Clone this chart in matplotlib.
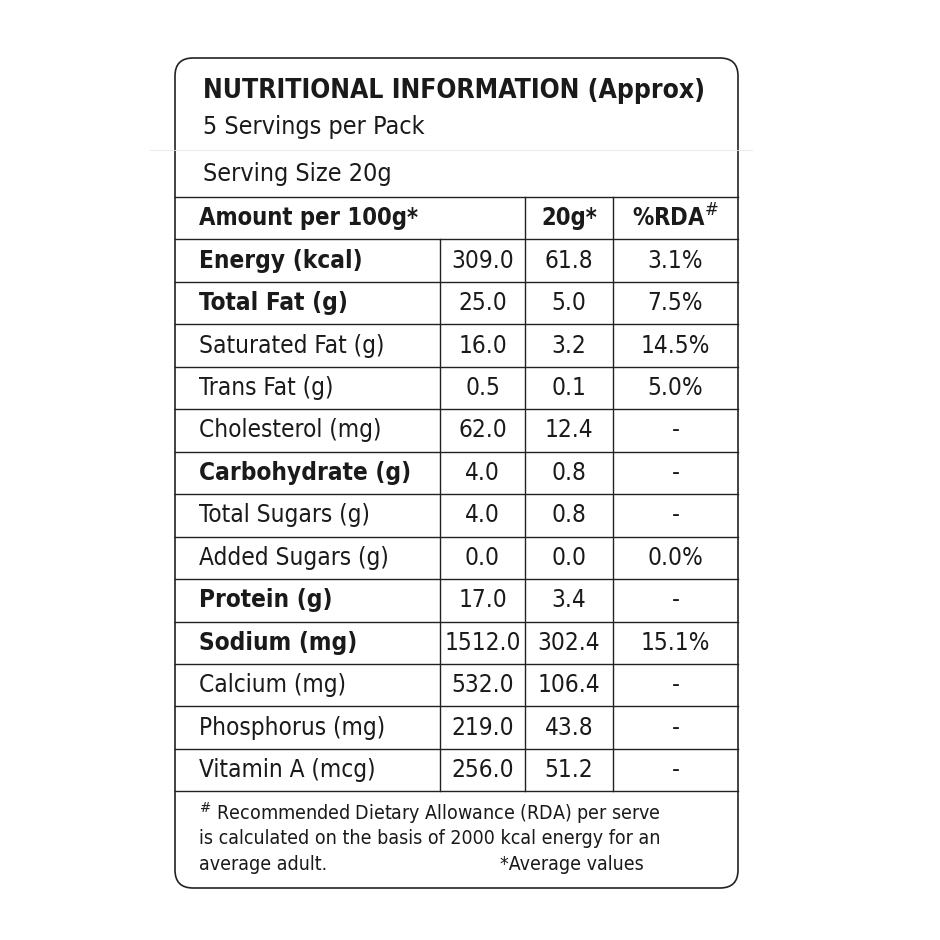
import matplotlib
matplotlib.use("Agg")
import matplotlib.pyplot as plt
from matplotlib.patches import FancyBboxPatch

# ---- data ----
TITLE = "NUTRITIONAL INFORMATION (Approx)"
SUB1 = "5 Servings per Pack"
SUB2 = "Serving Size 20g"
nutrients = ["Energy (kcal)", "Total Fat (g)", "Saturated Fat (g)", "Trans Fat (g)",
             "Cholesterol (mg)", "Carbohydrate (g)", "Total Sugars (g)", "Added Sugars (g)",
             "Protein (g)", "Sodium (mg)", "Calcium (mg)", "Phosphorus (mg)", "Vitamin A (mcg)"]
per100 = ["309.0", "25.0", "16.0", "0.5", "62.0", "4.0", "4.0", "0.0", "17.0",
          "1512.0", "532.0", "219.0", "256.0"]
per20 = ["61.8", "5.0", "3.2", "0.1", "12.4", "0.8", "0.8", "0.0", "3.4",
         "302.4", "106.4", "43.8", "51.2"]
rda = ["3.1%", "7.5%", "14.5%", "5.0%", "-", "-", "-", "0.0%", "-", "15.1%", "-", "-", "-"]
bold_rows = {"Energy (kcal)", "Total Fat (g)", "Carbohydrate (g)", "Protein (g)", "Sodium (mg)"}
FOOT = ["$^{\\#}$ Recommended Dietary Allowance (RDA) per serve",
        "is calculated on the basis of 2000 kcal energy for an",
        "average adult."]

# ---- layout (pixel coords) ----
L, R, TOP, BOT = 175, 738, 58, 888
HDR_TOP, ROW_H = 197, 42.45
COLS = [440, 525, 613]
FS = dict(family="DejaVu Sans", stretch="condensed", color="#1a1a1a")

fig = plt.figure(figsize=(9.4, 9.4), dpi=100)
ax = fig.add_axes([0, 0, 1, 1])
ax.set_xlim(0, 940)
ax.set_ylim(940, 0)
ax.axis("off")

ax.add_patch(FancyBboxPatch((L, TOP), R - L, BOT - TOP, boxstyle="round,pad=0,rounding_size=18",
                            fc="white", ec="#222222", lw=1.2, zorder=1))
ax.plot([150, 752], [150, 150], color="#e6e6e6", lw=0.6, zorder=1.5)

ax.text(203, 91, TITLE, fontsize=19, fontweight="bold", va="center", **FS)
ax.text(203, 127, SUB1, fontsize=18, va="center", **FS)
ax.text(203, 174, SUB2, fontsize=18, va="center", **FS)

n = len(nutrients)
ys = [HDR_TOP + i * ROW_H for i in range(n + 2)]
for y in ys:
    ax.plot([L, R], [y, y], color="#222222", lw=1.0)
ax.plot([COLS[1], COLS[1]], [ys[0], ys[-1]], color="#222222", lw=1.0)
ax.plot([COLS[2], COLS[2]], [ys[0], ys[-1]], color="#222222", lw=1.0)
ax.plot([COLS[0], COLS[0]], [ys[1], ys[-1]], color="#222222", lw=1.0)

cx1, cx2, cx3 = (COLS[0] + COLS[1]) / 2, (COLS[1] + COLS[2]) / 2, (COLS[2] + R) / 2
hy = ys[0] + ROW_H / 2
ax.text(199, hy, "Amount per 100g*", fontsize=17, fontweight="bold", va="center", **FS)
ax.text(cx2, hy, "20g*", fontsize=17, fontweight="bold", va="center", ha="center", **FS)
ax.text(cx3, hy, "%RDA$^{\\#}$", fontsize=17, fontweight="bold", va="center", ha="center", **FS)

for i, name in enumerate(nutrients):
    y = ys[i + 1] + ROW_H / 2
    w = "bold" if name in bold_rows else "normal"
    ax.text(199, y, name, fontsize=17.5, fontweight=w, va="center", **FS)
    ax.text(cx1, y, per100[i], fontsize=17.5, va="center", ha="center", **FS)
    ax.text(cx2, y, per20[i], fontsize=17.5, va="center", ha="center", **FS)
    ax.text(cx3, y, rda[i], fontsize=17.5, va="center", ha="center", **FS)

for k, line in enumerate(FOOT):
    ax.text(199, 813 + k * 26, line, fontsize=14, va="center", **FS)
ax.text(500, 865, "*Average values", fontsize=14, va="center", **FS)

fig.savefig("out.png", dpi=100, facecolor="white")
